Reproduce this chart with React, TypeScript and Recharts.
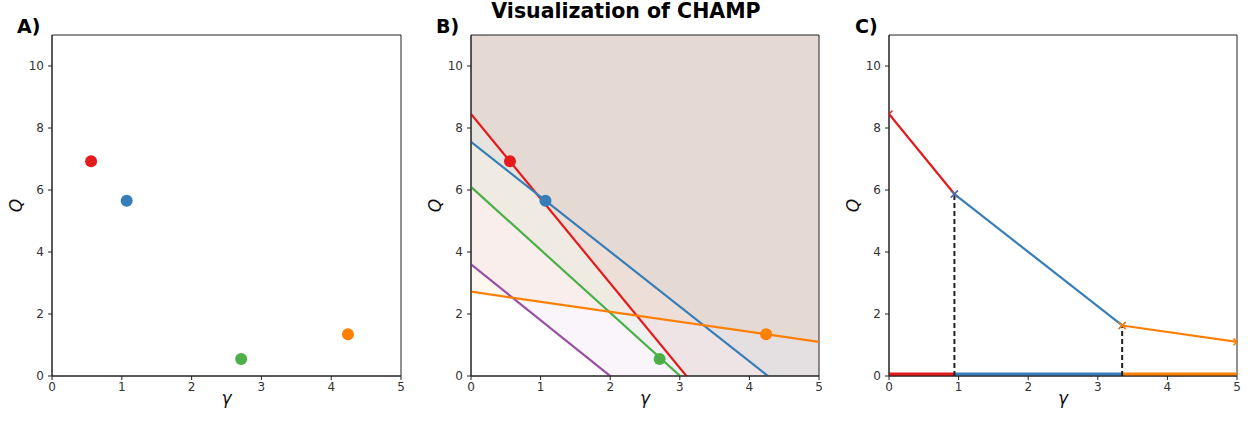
import React from 'react';
import {
  ComposedChart,
  Line,
  Area,
  Scatter,
  XAxis,
  YAxis,
  ReferenceArea,
  Cell,
} from 'recharts';

// partitions (matplotlib Set1 colours)
const names = ['p1', 'p2', 'p3', 'p4', 'p5'];
const colors = ['#e41a1c', '#377eb8', '#4daf4a', '#984ea3', '#ff7f00'];

// panel A / B points (gamma, Q) — purple has no visible point
const pointNames = ['p1', 'p2', 'p3', 'p5'];
const pointGamma = [0.56, 1.07, 2.71, 4.24];
const pointQ = [6.93, 5.65, 0.55, 1.35];
const pointColors = ['#e41a1c', '#377eb8', '#4daf4a', '#ff7f00'];

// panel B lines: Q at gamma = 0 and at gamma = 5
const lineGamma = [0, 5];
const lineQStart = [8.45, 7.55, 6.1, 3.6, 2.72];
const lineQEnd = [-5.2, -1.3, -4.05, -5.4, 1.1];

// panel C: convex hull pieces
const hullColors = ['#e41a1c', '#377eb8', '#ff7f00'];
const hullGamma = [0, 0.94, 3.35, 5];
const hullQ = [8.45, 5.87, 1.63, 1.1];
const breakGamma = [0.94, 3.35];
const breakQ = [5.87, 1.63];

const xTicks = [0, 1, 2, 3, 4, 5];
const yTicks = [0, 2, 4, 6, 8, 10];

const FONT = '"DejaVu Sans", sans-serif';
const tickStyle = { fill: '#333', fontSize: 12, fontFamily: FONT };

const points = pointGamma.map((g, i) => ({ g, q: pointQ[i], name: pointNames[i] }));

const lines = names.map((n, i) => [
  { g: lineGamma[0], q: lineQStart[i] },
  { g: lineGamma[1], q: lineQEnd[i] },
]);

const hullSegments = hullColors.map((c, i) => [
  { g: hullGamma[i], q: hullQ[i] },
  { g: hullGamma[i + 1], q: hullQ[i + 1] },
]);

const baseBars = hullColors.map((c, i) => [
  { g: hullGamma[i], q: 0 },
  { g: hullGamma[i + 1], q: 0 },
]);

const dashes = breakGamma.map((g, i) => [
  { g, q: 0 },
  { g, q: breakQ[i] },
]);

const Dot = (color: string) => (props: any) => (
  <circle cx={props.cx} cy={props.cy} r={6} fill={color} />
);

const XMark = (color: string) => (props: any) => {
  const { cx, cy, index } = props;
  if (cx == null || cy == null) return <g key={index} />;
  const s = 3.5;
  return (
    <g key={index} stroke={color} strokeWidth={1.5}>
      <line x1={cx - s} y1={cy - s} x2={cx + s} y2={cy + s} />
      <line x1={cx - s} y1={cy + s} x2={cx + s} y2={cy - s} />
    </g>
  );
};

function Panel({ left, width, marginLeft, marginRight, children }: any) {
  return (
    <div style={{ position: 'absolute', left, top: 0 }}>
      <ComposedChart
        width={width}
        height={423}
        margin={{ top: 35, right: marginRight, bottom: 17, left: marginLeft }}
      >
        <XAxis
          type="number"
          dataKey="g"
          domain={[0, 5]}
          ticks={xTicks}
          allowDataOverflow
          height={30}
          tick={tickStyle}
          tickSize={4}
          tickMargin={2}
          stroke="#222"
          label={{
            value: 'γ',
            position: 'insideBottom',
            offset: 2,
            style: { fill: '#111', fontSize: 17, fontStyle: 'italic', fontFamily: FONT },
          }}
        />
        <YAxis
          type="number"
          domain={[0, 11]}
          ticks={yTicks}
          allowDataOverflow
          width={45}
          tick={tickStyle}
          tickSize={4}
          tickMargin={4}
          stroke="#222"
          label={{
            value: 'Q',
            angle: -90,
            position: 'insideLeft',
            offset: 9,
            style: { fill: '#111', fontSize: 17, fontStyle: 'italic', fontFamily: FONT, textAnchor: 'middle' },
          }}
        />
        {children}
        <ReferenceArea x1={0} x2={5} y1={0} y2={11} fill="none" stroke="#222" strokeWidth={1} ifOverflow="visible" />
      </ComposedChart>
    </div>
  );
}

const labelStyle: React.CSSProperties = {
  position: 'absolute',
  fontFamily: FONT,
  fontWeight: 'bold',
  fontSize: 19,
  color: '#000',
  lineHeight: 1,
};

export default function App() {
  return (
    <div style={{ position: 'absolute', left: 0, top: 0, width: 1248, height: 423, background: '#fff', overflow: 'hidden' }}>
      {/* A) scatter of partitions */}
      <Panel left={0} width={420} marginLeft={7} marginRight={19}>
        <Scatter data={points} dataKey="q" isAnimationActive={false} shape={(p: any) => Dot(pointColors[p.index])(p)}>
          {points.map((p, i) => (
            <Cell key={i} fill={pointColors[i]} />
          ))}
        </Scatter>
      </Panel>

      {/* B) halfplanes */}
      <Panel left={420} width={420} marginLeft={6} marginRight={21}>
        {lines.map((d, i) => (
          <Area
            key={'a' + i}
            data={d}
            dataKey="q"
            type="linear"
            baseValue="dataMax"
            stroke="none"
            fill={colors[i]}
            fillOpacity={0.055}
            isAnimationActive={false}
          />
        ))}
        {lines.map((d, i) => (
          <Line
            key={'l' + i}
            data={d}
            dataKey="q"
            type="linear"
            stroke={colors[i]}
            strokeWidth={2.2}
            dot={false}
            isAnimationActive={false}
          />
        ))}
        <Scatter data={points} dataKey="q" isAnimationActive={false} shape={(p: any) => Dot(pointColors[p.index])(p)} />
      </Panel>

      {/* C) convex hull / domains of optimality */}
      <Panel left={840} width={408} marginLeft={4} marginRight={11}>
        {baseBars.map((d, i) => (
          <Line
            key={'b' + i}
            data={d}
            dataKey="q"
            type="linear"
            stroke={hullColors[i]}
            strokeWidth={7}
            dot={false}
            isAnimationActive={false}
          />
        ))}
        {dashes.map((d, i) => (
          <Line
            key={'d' + i}
            data={d}
            dataKey="q"
            type="linear"
            stroke="#222"
            strokeWidth={2}
            strokeDasharray="5 3"
            dot={false}
            isAnimationActive={false}
          />
        ))}
        {hullSegments.map((d, i) => (
          <Line
            key={'h' + i}
            data={d}
            dataKey="q"
            type="linear"
            stroke={hullColors[i]}
            strokeWidth={2.2}
            dot={XMark(hullColors[i])}
            isAnimationActive={false}
          />
        ))}
      </Panel>

      <div style={{ ...labelStyle, left: 17, top: 17 }}>A)</div>
      <div style={{ ...labelStyle, left: 436, top: 17 }}>B)</div>
      <div style={{ ...labelStyle, left: 855, top: 17 }}>C)</div>
      <div style={{ ...labelStyle, fontSize: 20.5, left: 420, width: 412, textAlign: 'center', top: 1 }}>
        Visualization of CHAMP
      </div>
    </div>
  );
}
